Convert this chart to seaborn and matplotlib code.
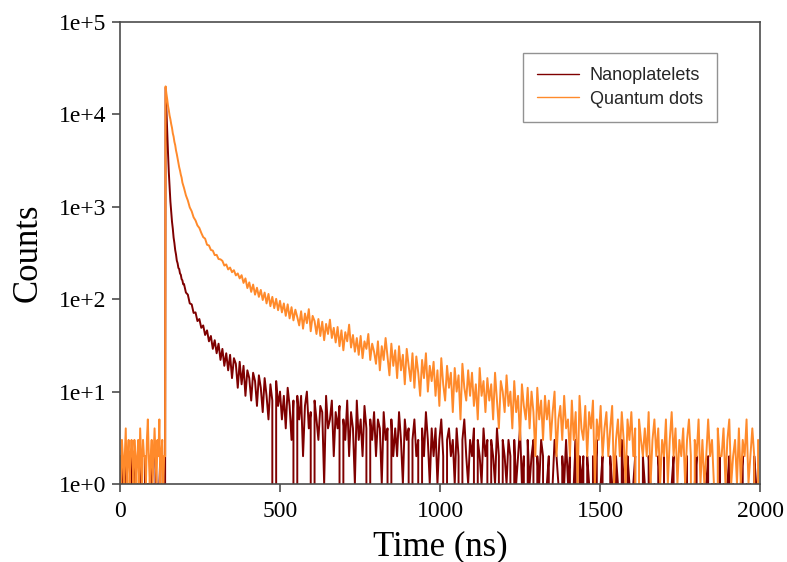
import numpy as np
import pandas as pd
import matplotlib
matplotlib.use("Agg")
import matplotlib.pyplot as plt
import seaborn as sns

# ---------------- data ----------------
# time channels, ns
t_pre = np.arange(0, 142, 3)          # before the excitation pulse
t_peak = np.arange(142.5, 200, 2.5)   # pulse and fast decay
t_tail = np.arange(200, 2000, 6)      # slow tail

series_names = ["Nanoplatelets", "Quantum dots"]

npl_pre = [1, 0, 2, 1, 0, 1, 2, 0, 1, 1, 0, 2, 1, 0, 1, 2, 1, 0, 1, 0,
           2, 1, 0, 1, 1, 0, 2, 1, 0, 1, 1, 0, 2, 1, 0, 1, 0, 2, 1, 1,
           0, 1, 2, 0, 1, 0, 1, 1]
npl_peak = [19500, 11200, 6100, 3850, 2380, 1630, 1140, 890, 690, 580,
            465, 405, 340, 305, 262, 245, 218, 212, 190, 184, 165, 160, 145]
npl_tail = [
    146, 118, 112, 90, 88, 71, 72, 58, 61, 49,
    52, 41, 46, 35, 40, 29, 36, 26, 33, 22,
    29, 19, 26, 17, 25, 14, 23, 20, 11, 21,
    12, 19, 9, 17, 14, 8, 16, 13, 7, 15,
    11, 6, 14, 9, 5, 12, 8, 0, 13, 7,
    10, 5, 9, 4, 11, 7, 3, 8, 0, 9,
    5, 9, 2, 7, 10, 4, 6, 0, 8, 5,
    3, 7, 6, 1, 9, 4, 5, 8, 2, 6,
    4, 7, 0, 5, 3, 8, 2, 6, 4, 1,
    8, 3, 5, 2, 7, 4, 0, 5, 3, 6,
    2, 5, 4, 1, 6, 3, 4, 0, 5, 2,
    4, 2, 6, 3, 1, 5, 3, 4, 0, 3,
    5, 2, 3, 0, 4, 2, 6, 3, 1, 4,
    2, 4, 1, 3, 5, 2, 0, 3, 4, 2,
    3, 1, 4, 2, 0, 3, 5, 2, 1, 3,
    2, 4, 0, 3, 2, 1, 4, 2, 3, 0,
    3, 2, 1, 4, 2, 0, 3, 2, 1, 3,
    2, 0, 3, 1, 2, 4, 1, 2, 0, 3,
    1, 2, 3, 0, 2, 1, 3, 2, 0, 1,
    2, 0, 1, 3, 2, 1, 0, 2, 1, 3,
    1, 2, 0, 1, 3, 0, 2, 1, 2, 0,
    2, 1, 0, 2, 1, 3, 0, 1, 2, 0,
    1, 0, 2, 1, 0, 2, 1, 0, 3, 1,
    0, 2, 1, 0, 1, 2, 0, 1, 0, 2,
    1, 0, 2, 1, 0, 1, 0, 2, 1, 0,
    2, 0, 1, 0, 1, 2, 0, 1, 0, 1,
    0, 1, 2, 0, 1, 0, 1, 2, 0, 1,
    1, 0, 1, 2, 0, 1, 0, 1, 0, 2,
    0, 1, 0, 1, 2, 0, 1, 0, 1, 0,
    1, 2, 0, 1, 0, 1, 0, 2, 1, 0,
]

qd_pre = [2, 1, 3, 2, 1, 2, 4, 1, 2, 3, 1, 2, 3, 2, 1, 3, 2, 1, 2, 3,
          1, 4, 2, 1, 3, 2, 2, 1, 3, 5, 2, 1, 2, 3, 1, 2, 4, 2, 1, 3,
          2, 5, 1, 2, 3, 1, 2, 2]
qd_peak = [20100, 16800, 14600, 12400, 11100, 9700, 8850, 7850, 7150, 6250,
           5750, 5050, 4650, 4080, 3720, 3330, 3020, 2680, 2470, 2230,
           2070, 1830, 1710]
qd_tail = [
    1600, 1330, 1170, 985, 895, 770, 712, 628, 590, 522,
    470, 452, 388, 382, 341, 336, 300, 302, 272, 270,
    260, 231, 238, 210, 220, 196, 206, 181, 190, 168,
    182, 150, 168, 132, 152, 120, 144, 112, 133, 106,
    126, 98, 118, 90, 114, 84, 106, 80, 101, 76,
    96, 72, 90, 66, 88, 62, 82, 59, 77, 64,
    52, 74, 48, 70, 55, 78, 45, 66, 58, 42,
    61, 40, 57, 36, 54, 42, 60, 38, 49, 34,
    50, 31, 46, 28, 44, 35, 53, 30, 41, 27,
    38, 25, 40, 23, 35, 29, 42, 22, 33, 27,
    20, 35, 17, 31, 22, 38, 24, 15, 33, 19,
    28, 14, 31, 17, 25, 12, 29, 19, 13, 26,
    11, 24, 16, 9, 22, 14, 26, 10, 19, 13,
    21, 9, 17, 7, 23, 12, 8, 19, 11, 16,
    6, 18, 10, 15, 5, 20, 11, 8, 17, 9,
    16, 7, 12, 5, 18, 9, 13, 6, 14, 8,
    12, 5, 16, 8, 4, 13, 10, 6, 15, 7,
    10, 4, 13, 6, 9, 3, 12, 7, 5, 11,
    4, 10, 6, 2, 11, 5, 8, 3, 9, 5,
    8, 3, 6, 10, 2, 5, 7, 3, 9, 4,
    5, 2, 8, 3, 6, 1, 9, 4, 3, 7,
    2, 6, 4, 8, 1, 5, 3, 7, 2, 4,
    6, 2, 4, 7, 1, 3, 5, 2, 6, 3,
    1, 5, 3, 6, 2, 4, 0, 5, 3, 2,
    4, 2, 6, 1, 3, 5, 2, 4, 1, 3,
    2, 5, 1, 3, 6, 2, 4, 1, 3, 2,
    4, 1, 3, 5, 2, 0, 3, 2, 5, 1,
    3, 1, 2, 5, 2, 3, 1, 0, 4, 2,
    2, 4, 1, 3, 5, 1, 2, 3, 1, 4,
    1, 3, 2, 5, 1, 2, 4, 2, 0, 3,
]

x_ticks = [0, 500, 1000, 1500, 2000]
y_ticks = [1, 10, 100, 1000, 10000, 100000]
y_tick_labels = ["1e+0", "1e+1", "1e+2", "1e+3", "1e+4", "1e+5"]
x_label = "Time (ns)"
y_label = "Counts"

# ---------------- assemble ----------------
time = np.concatenate([t_pre, t_peak, t_tail])
frames = []
for name, pre, peak, tail in [("Nanoplatelets", npl_pre, npl_peak, npl_tail),
                              ("Quantum dots", qd_pre, qd_peak, qd_tail)]:
    counts = np.array(pre + peak + tail, dtype=float)
    frames.append(pd.DataFrame({"time": time, "counts": counts, "sample": name}))
df = pd.concat(frames, ignore_index=True)

# ---------------- style ----------------
sns.set_theme(style="ticks")
plt.rcParams["font.family"] = ["Liberation Serif", "DejaVu Serif"]
plt.rcParams["axes.edgecolor"] = "#4d4d4d"
plt.rcParams["xtick.color"] = "#4d4d4d"
plt.rcParams["ytick.color"] = "#4d4d4d"

colors = ["#7f0000", "#ff8a2b"]

fig = plt.figure(figsize=(7.87, 5.62), dpi=100)
ax = fig.add_axes([120 / 787, 1 - 484 / 562, 640 / 787, 462 / 562])

sns.lineplot(data=df, x="time", y="counts", hue="sample", hue_order=series_names,
             palette=colors, estimator=None, sort=False, linewidth=1.4, ax=ax)

ax.set_yscale("log")
ax.set_xlim(0, 2000)
ax.set_ylim(1, 1e5)
ax.set_xticks(x_ticks)
ax.set_xticklabels([str(v) for v in x_ticks])
ax.set_yticks(y_ticks)
ax.set_yticklabels(y_tick_labels)
ax.minorticks_off()
ax.tick_params(axis="both", direction="out", length=6, width=1.2,
               labelsize=17, labelcolor="black", pad=4)
ax.tick_params(axis="x", pad=6)
for sp in ax.spines.values():
    sp.set_linewidth(1.2)
    sp.set_visible(True)

ax.set_xlabel(x_label, fontsize=25, color="black", labelpad=6)
ax.set_ylabel(y_label, fontsize=25, color="black", labelpad=10)

handles, labels = ax.get_legend_handles_labels()
leg = ax.legend(handles, labels, loc="upper right", bbox_to_anchor=(0.933, 0.933),
                borderaxespad=0.0,
                frameon=True, fancybox=False, edgecolor="#777777",
                prop={"family": "Liberation Sans", "size": 13},
                handlelength=2.3, handletextpad=0.6, borderpad=0.8, labelspacing=0.35)
leg.get_frame().set_linewidth(1.0)
for ln in leg.get_lines():
    ln.set_linewidth(1.0)

fig.savefig("out.png", dpi=100)
